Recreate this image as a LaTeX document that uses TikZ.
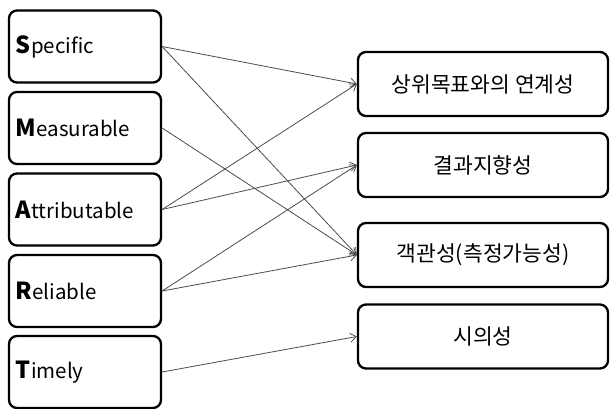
\documentclass[tikz,border=0pt]{standalone}
\usepackage{fontspec}
\setmainfont{Noto Sans CJK KR}
\usetikzlibrary{arrows.meta}

\tikzset{
  leftbox/.style={draw, line width=2.3pt, rounded corners=8pt, minimum width=152pt, minimum height=72pt, text width=138pt, align=left, font=\fontsize{20.5}{24}\selectfont},
  rightbox/.style={draw, line width=2.3pt, rounded corners=8pt, minimum width=250pt, minimum height=64pt, align=center, font=\fontsize{21.5}{24}\selectfont},
  link/.style={-{Straight Barb[length=6pt,width=9pt]}, draw=black!70, line width=0.8pt}
}
\newcommand{\initial}[1]{{\fontsize{23.5}{24}\selectfont\bfseries #1}}

\begin{document}
\begin{tikzpicture}[x=1pt,y=-1pt]
\useasboundingbox (0,0) rectangle (610,409); % page frame

\node[leftbox] (spec) at (85,46.5) {\initial{S}pecific}; % S
\node[leftbox] (meas) at (85,128) {\initial{M}easurable}; % M
\node[leftbox] (attr) at (85,209.5) {\initial{A}ttributable}; % A
\node[leftbox] (reli) at (85,291) {\initial{R}eliable}; % R
\node[leftbox] (time) at (85,372) {\initial{T}imely}; % T

\node[rightbox] (link) at (483,84) {상위목표와의 연계성}; % goal link
\node[rightbox] (result) at (483,165) {결과지향성}; % result orientation
\node[rightbox] (object) at (483,255) {객관성(측정가능성)}; % objectivity
\node[rightbox] (timeli) at (483,336.5) {시의성}; % timeliness

\draw[link] (spec.east) -- (link.west); % S to goal link
\draw[link] (spec.east) -- (object.west); % S to objectivity
\draw[link] (meas.east) -- (object.west); % M to objectivity
\draw[link] (attr.east) -- (link.west); % A to goal link
\draw[link] (attr.east) -- (result.west); % A to result
\draw[link] (reli.east) -- (result.west); % R to result
\draw[link] (reli.east) -- (object.west); % R to objectivity
\draw[link] (time.east) -- (timeli.west); % T to timeliness

\end{tikzpicture}
\end{document}
